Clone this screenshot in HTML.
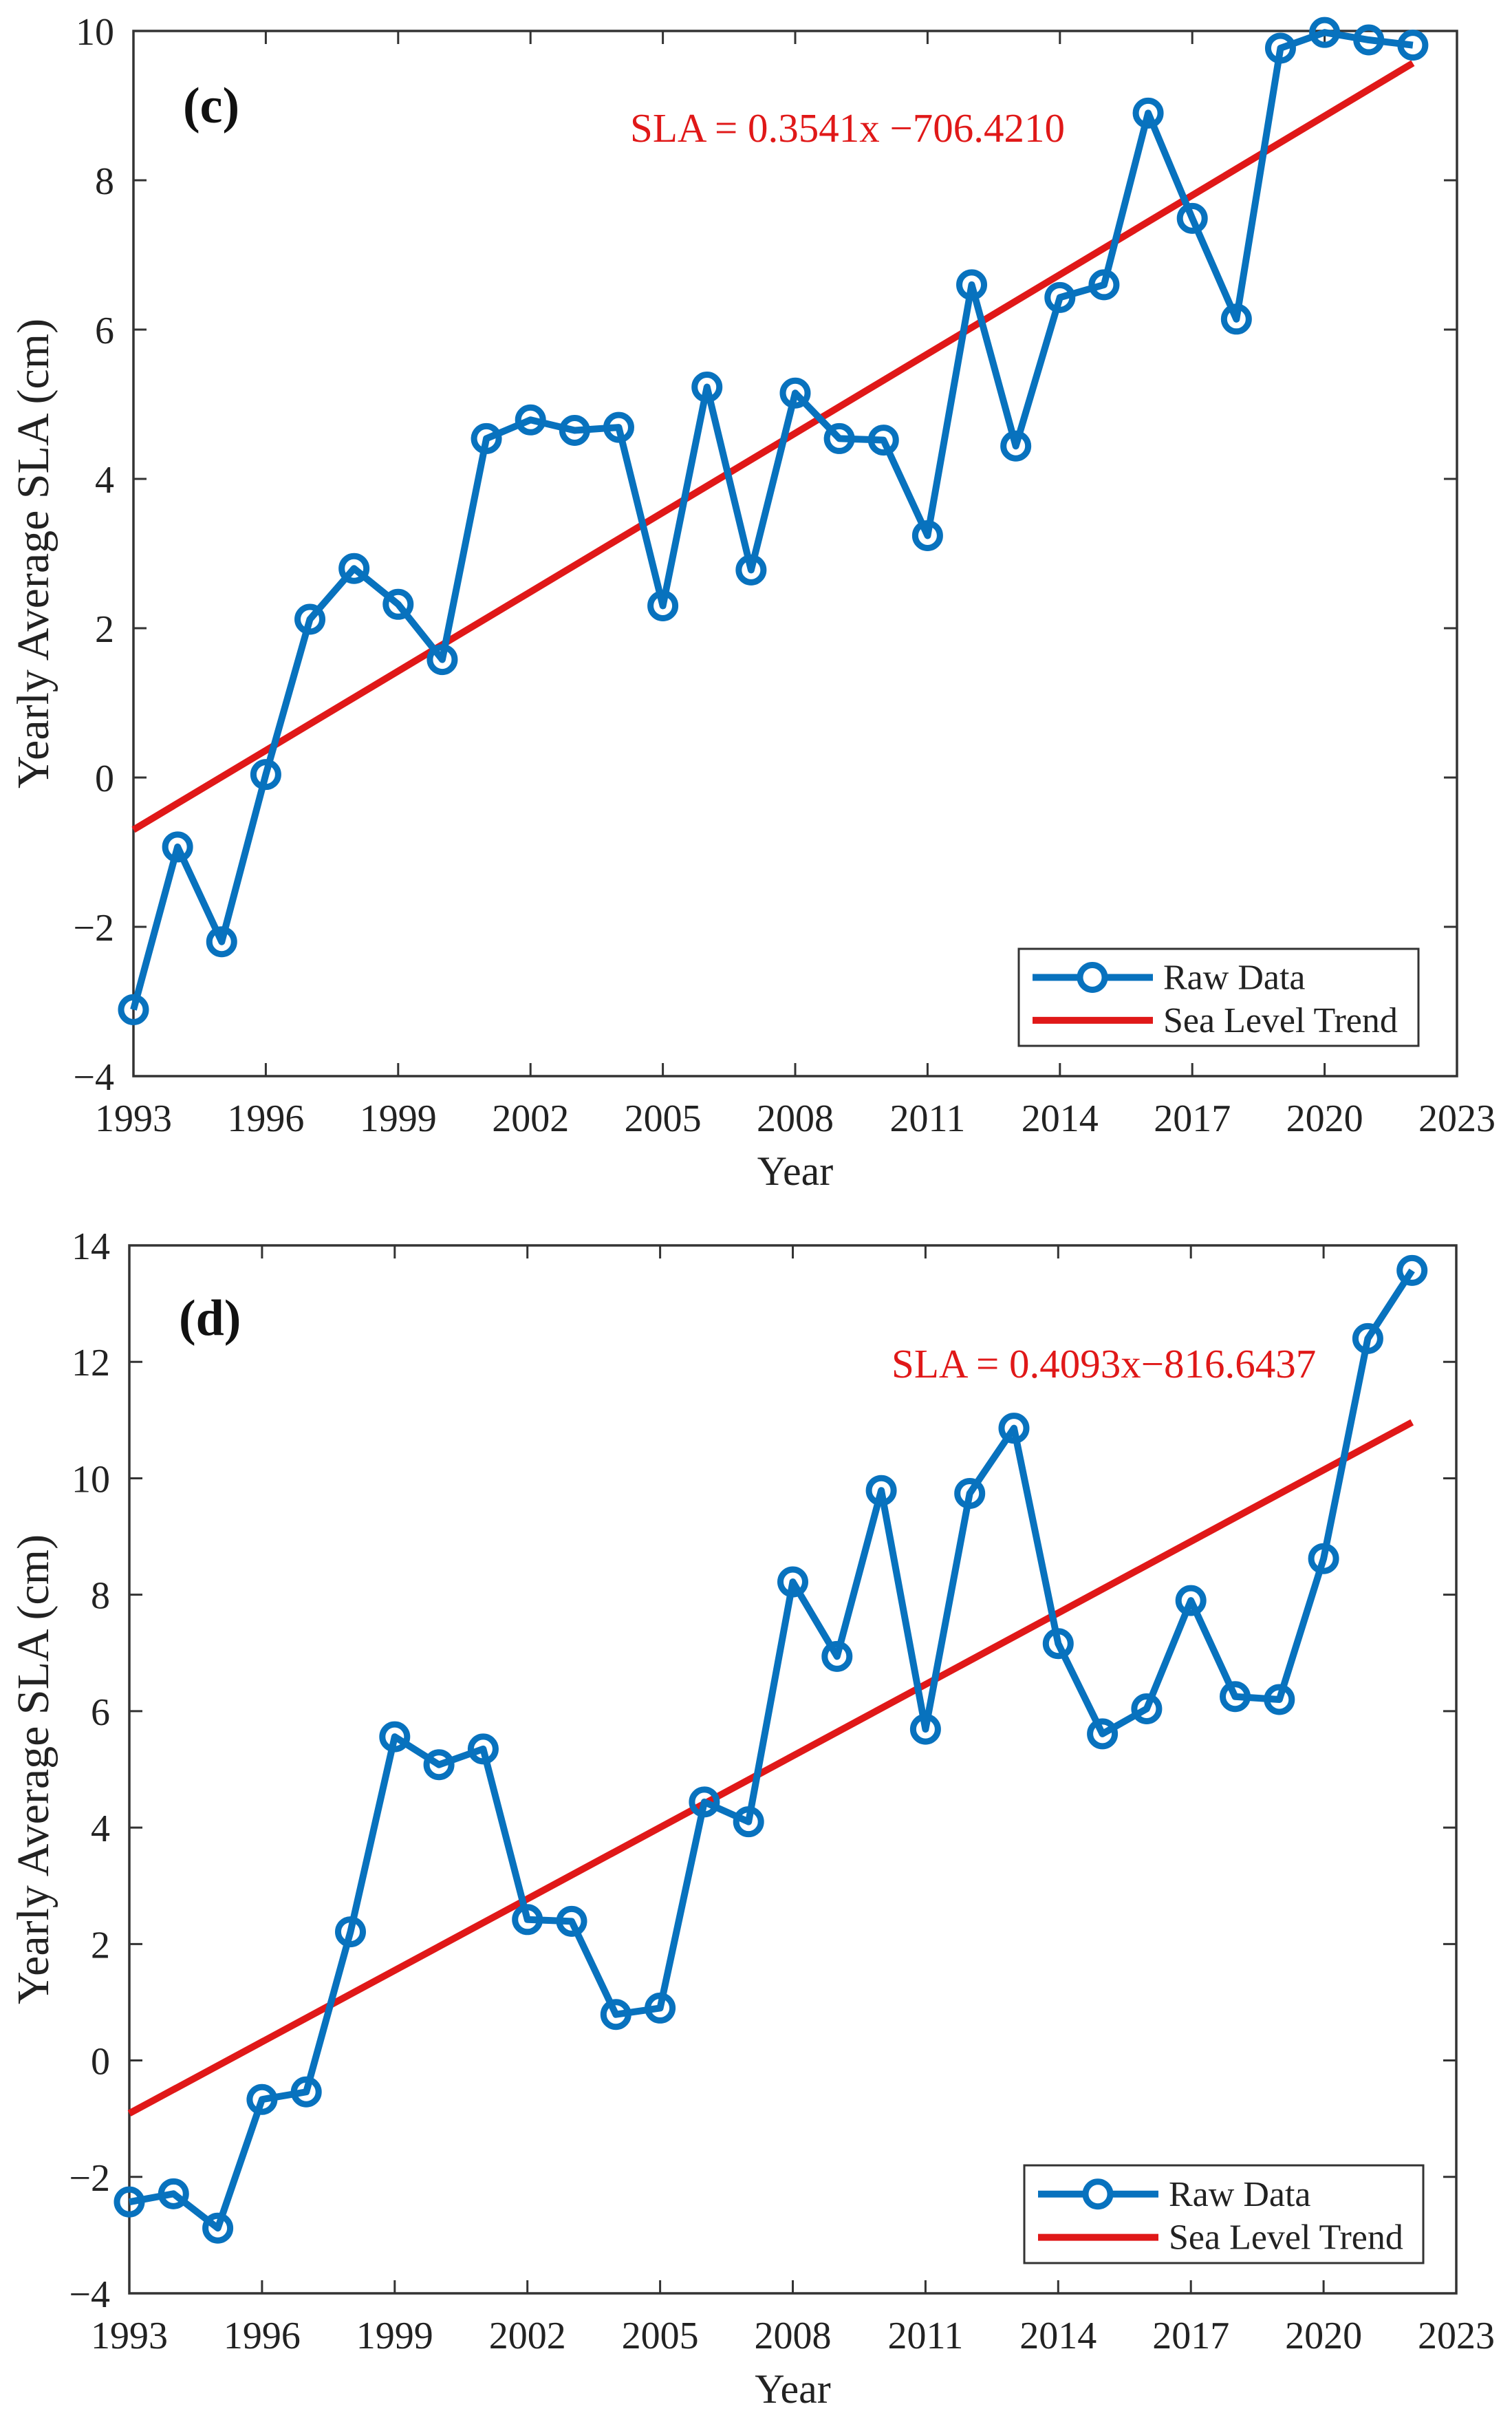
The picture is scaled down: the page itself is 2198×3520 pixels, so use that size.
<!DOCTYPE html>
<html><head><meta charset="utf-8"><style>
html,body{margin:0;padding:0;background:#fff;}
svg{display:block;font-family:"Liberation Serif",serif;}
</style></head><body>
<svg id="fig" width="2198" height="3520" viewBox="0 0 2198 3520" xmlns="http://www.w3.org/2000/svg"></svg>
<script>
const years = [1993,1994,1995,1996,1997,1998,1999,2000,2001,2002,2003,2004,2005,2006,2007,2008,2009,2010,2011,2012,2013,2014,2015,2016,2017,2018,2019,2020,2021,2022];
const slaC = [-3.11,-0.93,-2.2,0.04,2.12,2.8,2.32,1.58,4.54,4.79,4.65,4.69,2.3,5.23,2.78,5.15,4.54,4.52,3.24,6.6,4.44,6.43,6.6,8.9,7.49,6.14,9.77,9.98,9.88,9.81];
const slaD = [-2.43,-2.29,-2.88,-0.67,-0.54,2.21,5.56,5.08,5.35,2.42,2.39,0.79,0.9,4.44,4.1,8.22,6.94,9.79,5.69,9.74,10.86,7.16,5.61,6.04,7.9,6.25,6.2,8.62,12.4,13.57];
const trendC = [0.3541,-706.4210];
const trendD = [0.4093,-816.6437];
const xTicks = [1993,1996,1999,2002,2005,2008,2011,2014,2017,2020,2023];
const yTicksC = [-4,-2,0,2,4,6,8,10];
const yTicksD = [-4,-2,0,2,4,6,8,10,12,14];
const eqC = "SLA = 0.3541x \u2212706.4210";
const eqD = "SLA = 0.4093x\u2212816.6437";

const NS="http://www.w3.org/2000/svg";
const svg=document.getElementById('fig');
function mk(tag,attrs,parent){const e=document.createElementNS(NS,tag);for(const k in attrs)e.setAttribute(k,attrs[k]);(parent||svg).appendChild(e);return e;}

function panel(cfg){
  const g=mk('g',{});
  
  
  const L=cfg.left,R=cfg.right,T=cfg.top,B=cfg.bottom;
  const sx=v=>L+(v-1993)/(2023-1993)*(R-L);
  const sy=v=>B-(v-cfg.ymin)/(cfg.ymax-cfg.ymin)*(B-T);
  xTicks.forEach(t=>{
    const x=sx(t);
    const tk=mk('path',{d:`M${x},${B}v-19M${x},${T}v19`,stroke:'#333','stroke-width':3},g);
    
    
    const lb=mk('text',{x:x,y:cfg.xlabY,'font-size':56,'text-anchor':'middle',fill:'#222'},g);
    lb.textContent=t;
    
    
  });
  cfg.yTicks.forEach(t=>{
    const y=sy(t);
    const tk=mk('path',{d:`M${L},${y}h19M${R},${y}h-19`,stroke:'#333','stroke-width':3},g);
    
    
    const lb=mk('text',{x:L-28,y:y+20,'font-size':56,'text-anchor':'end',fill:'#222'},g);
    lb.textContent=(t<0?'\u2212'+(-t):t);
    
    
  });
  const box=mk('rect',{x:L,y:T,width:R-L,height:B-T,fill:'none',stroke:'#333','stroke-width':3.5},g);
  
  
  const t0=cfg.trend[0]*1993+cfg.trend[1], t1=cfg.trend[0]*2022+cfg.trend[1];
  const tl=mk('line',{x1:sx(1993),y1:sy(t0),x2:sx(2022),y2:sy(t1),stroke:'#E01818','stroke-width':10},g);
  
  
  const pts=years.map((yr,i)=>sx(yr)+','+sy(cfg.data[i])).join(' ');
  const pl=mk('polyline',{points:pts,fill:'none',stroke:'#0872BE','stroke-width':10,'stroke-linejoin':'round'},g);
  
  
  years.forEach((yr,i)=>{
    const c=mk('circle',{cx:sx(yr),cy:sy(cfg.data[i]),r:18,fill:'none',stroke:'#0872BE','stroke-width':9},g);
    
    
  });
  const pl2=mk('text',{x:L+72,y:cfg.panelY,'font-size':74,'font-weight':'bold',fill:'#111'},g);
  pl2.textContent=cfg.panel;
  
  
  const eq=mk('text',{x:cfg.eqX,y:cfg.eqY,'font-size':59,fill:'#E01818'},g);
  eq.textContent=cfg.eq;
  
  
  const xt=mk('text',{x:(L+R)/2,y:cfg.yearY,'font-size':60,'text-anchor':'middle',fill:'#222'},g);
  xt.textContent='Year';
  
  
  const cy=(T+B)/2;
  const yt=mk('text',{x:70,y:cy,'font-size':66,'text-anchor':'middle',fill:'#222',transform:`rotate(-90 70 ${cy})`},g);
  yt.textContent='Yearly Average SLA (cm)';
  
  
  const lg=mk('g',{},g);
  
  
  const lgx=cfg.leg[0],lgy=cfg.leg[1],lgw=cfg.leg[2],lgh=cfg.leg[3];
  mk('rect',{x:lgx,y:lgy,width:lgw,height:lgh,fill:'#fff',stroke:'#333','stroke-width':3},lg);
  const r1=lgy+lgh*0.28+2, r2=lgy+lgh*0.73+1;
  const e1=mk('g',{},lg);
  
  
  mk('line',{x1:lgx+20,y1:r1,x2:lgx+195,y2:r1,stroke:'#0872BE','stroke-width':10},e1);
  mk('circle',{cx:lgx+107,cy:r1,r:18,fill:'#fff',stroke:'#0872BE','stroke-width':9},e1);
  const tx1=mk('text',{x:lgx+210,y:r1+17,'font-size':52,fill:'#222'},e1);tx1.textContent='Raw Data';
  const e2=mk('g',{},lg);
  
  
  mk('line',{x1:lgx+20,y1:r2,x2:lgx+195,y2:r2,stroke:'#E01818','stroke-width':10},e2);
  const tx2=mk('text',{x:lgx+210,y:r2+17,'font-size':52,fill:'#222'},e2);tx2.textContent='Sea Level Trend';
}

panel({name:'chart-c',left:194,right:2118,top:45,bottom:1564,ymin:-4,ymax:10,yTicks:yTicksC,data:slaC,trend:trendC,
  xlabY:1644,yearY:1722,panel:'(c)',panelY:178,eq:eqC,eqX:916,eqY:206,leg:[1481,1379,581,141]});
panel({name:'chart-d',left:188,right:2117,top:1810,bottom:3333,ymin:-4,ymax:14,yTicks:yTicksD,data:slaD,trend:trendD,
  xlabY:3413,yearY:3492,panel:'(d)',panelY:1940,eq:eqD,eqX:1296,eqY:2002,leg:[1489,3147,580,142]});
</script>
</body></html>
